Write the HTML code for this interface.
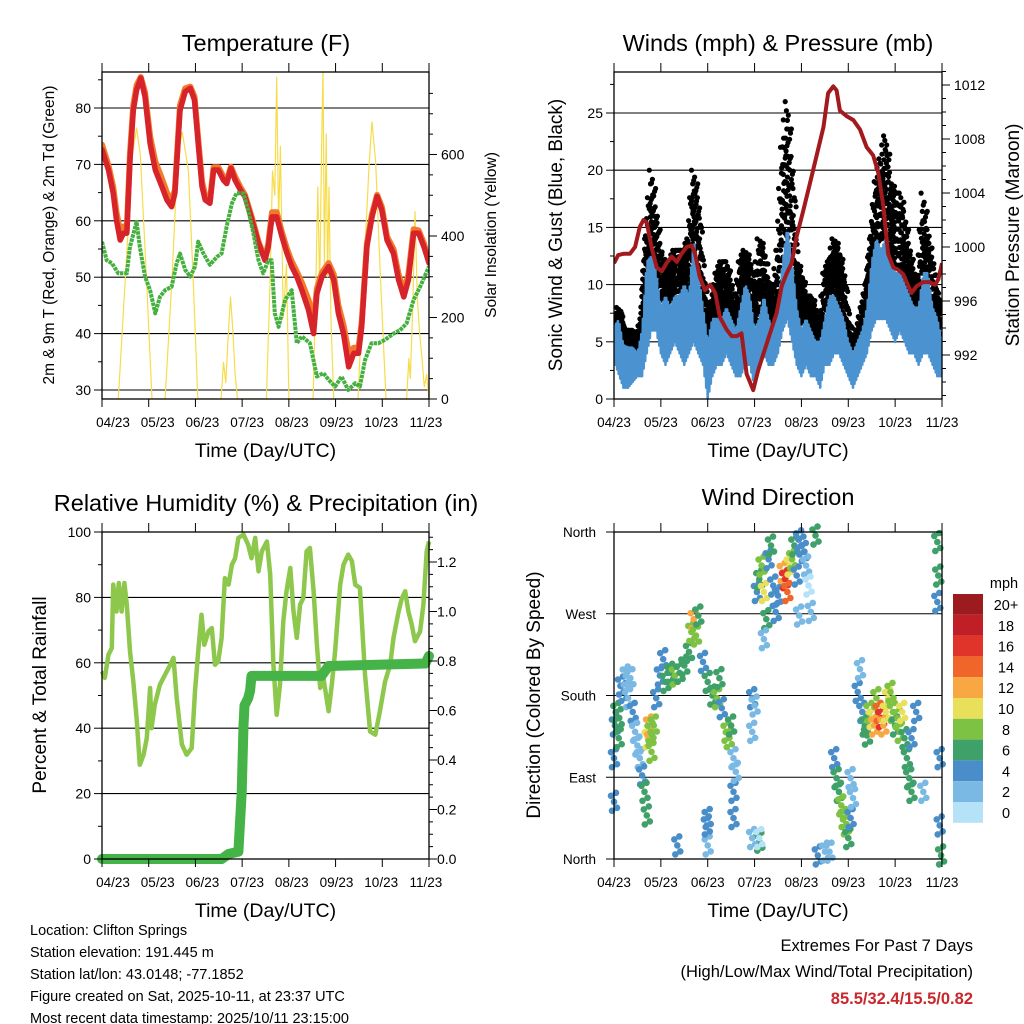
<!DOCTYPE html>
<html><head><meta charset="utf-8"><style>
html,body{margin:0;padding:0;background:#fff;}
svg{display:block;font-family:"Liberation Sans",Arial,sans-serif;}
</style></head><body>
<svg id="c" width="1024" height="1024" viewBox="0 0 1024 1024"></svg>
<script>
// ---------- DATA ----------
const monthLabels = ["04/23","05/23","06/23","07/23","08/23","09/23","10/23","11/23"];
const tempTicks = [30,40,50,60,70,80];
const solarTicks = [0,200,400,600];
const windTicks = [0,5,10,15,20,25];
const pressTicks = [992,996,1000,1004,1008,1012];
const rhTicks = [0,20,40,60,80,100];
const precipTicks = [0.0,0.2,0.4,0.6,0.8,1.0,1.2];
const dirTicks = [0,90,180,270,360];
const dirLabels = ["North","East","South","West","North"];
const speedBins = ["0","2","4","6","8","10","12","14","16","18","20+"];
const speedColors = ["#b5e2f7","#7bb9e5","#4a8ec9","#3fa06a","#7dc242","#e8e05a","#f9a743","#f06529","#e0342a","#c01f27","#9b1b1f"];

const tempRed = [[0,72.6],[.14,69.0],[.24,64.9],[.31,60.1],[.39,56.6],[.46,57.8],[.53,57.8],[.60,70.8],[.67,79.6],[.74,83.2],[.83,85.3],[.92,82.0],[1.03,73.7],[1.14,69.0],[1.28,66.1],[1.39,63.7],[1.49,62.5],[1.56,64.9],[1.67,79.6],[1.78,82.9],[1.89,83.5],[1.98,81.4],[2.06,73.7],[2.14,66.1],[2.21,63.7],[2.31,63.1],[2.39,69.0],[2.49,69.0],[2.60,67.2],[2.67,66.6],[2.76,69.3],[2.85,67.2],[2.96,65.5],[3.06,64.3],[3.21,60.1],[3.35,56.0],[3.49,53.0],[3.56,55.4],[3.64,60.7],[3.74,60.7],[3.85,57.2],[3.96,54.2],[4.06,51.9],[4.17,50.1],[4.28,47.7],[4.42,44.2],[4.53,40.0],[4.60,47.1],[4.71,50.1],[4.85,51.9],[4.96,49.5],[5.06,43.6],[5.17,40.0],[5.28,34.1],[5.39,36.5],[5.49,36.5],[5.56,41.2],[5.67,55.4],[5.78,60.7],[5.89,64.3],[5.99,61.9],[6.10,56.6],[6.24,54.2],[6.35,49.5],[6.46,46.5],[6.56,49.5],[6.67,57.8],[6.78,57.8],[6.89,55.4],[7.0,52.5]];
const tempOrange = [[0,73.5],[.14,69.8],[.24,66],[.31,61.5],[.39,58],[.46,59],[.53,58.5],[.60,72],[.67,80.5],[.74,84],[.83,85.5],[.92,82.8],[1.03,75],[1.14,70.5],[1.28,67.5],[1.39,65],[1.49,63.5],[1.56,65.5],[1.67,80.5],[1.78,83.5],[1.89,83.8],[1.98,82],[2.06,74.5],[2.14,67],[2.21,64.5],[2.31,63.5],[2.39,69.5],[2.49,69.5],[2.60,67.8],[2.67,67],[2.76,69.6],[2.85,67.8],[2.96,66],[3.06,64.6],[3.21,60.5],[3.35,56.3],[3.49,53.3],[3.56,56],[3.64,61.5],[3.74,61.5],[3.85,58],[3.96,55],[4.06,52.8],[4.17,51],[4.28,49],[4.42,46],[4.53,42],[4.60,48],[4.71,50.8],[4.85,52.5],[4.96,50.5],[5.06,45],[5.17,41.5],[5.28,36.5],[5.39,37.5],[5.49,37.5],[5.56,42],[5.67,56],[5.78,61.2],[5.89,64.6],[5.99,62.5],[6.10,57.2],[6.24,55],[6.35,50.5],[6.46,47.5],[6.56,50.5],[6.67,58.5],[6.78,58.3],[6.89,56],[7.0,52.8]];
const dewGreen = [[0,56.3],[.10,53.0],[.21,52.5],[.35,50.7],[.53,50.7],[.60,55.4],[.74,59.8],[.81,55.4],[.92,50.1],[1.03,47.7],[1.14,43.6],[1.24,46.5],[1.35,47.7],[1.49,48.3],[1.60,52.5],[1.67,54.2],[1.78,51.3],[1.89,50.1],[1.99,51.9],[2.06,56.3],[2.17,54.2],[2.31,52.2],[2.46,53.6],[2.56,54.2],[2.67,59.0],[2.78,63.1],[2.88,64.9],[3.03,64.9],[3.13,61.9],[3.24,57.8],[3.35,53.0],[3.45,50.7],[3.56,53.0],[3.63,53.0],[3.70,43.6],[3.78,41.2],[3.85,43.6],[3.92,46.0],[4.06,47.7],[4.17,38.3],[4.28,39.5],[4.45,38.3],[4.60,32.4],[4.74,33.0],[4.85,31.8],[4.99,30.6],[5.13,32.4],[5.27,30.0],[5.42,31.2],[5.52,30.6],[5.63,35.3],[5.77,38.3],[5.92,38.3],[6.06,38.9],[6.24,40.0],[6.38,40.6],[6.52,41.8],[6.67,46.0],[6.81,48.3],[7.0,51.9]];
const solar = [[0,0],[.35,0],[.5,300],[.65,600],[.74,665],[.82,600],[.95,300],[1.07,0],[1.35,0],[1.5,300],[1.62,600],[1.72,655],[1.85,560],[1.95,300],[2.05,0],[2.55,0],[2.6,90],[2.65,40],[2.7,150],[2.75,250],[2.8,170],[2.85,60],[2.9,0],[3.52,0],[3.6,300],[3.65,560],[3.7,500],[3.74,790],[3.78,430],[3.82,620],[3.88,200],[3.95,330],[4.0,0],[4.52,0],[4.58,300],[4.62,520],[4.66,270],[4.7,620],[4.73,810],[4.76,330],[4.8,650],[4.83,300],[4.86,520],[4.9,200],[4.96,0],[5.48,0],[5.6,300],[5.72,580],[5.78,680],[5.86,580],[5.96,300],[6.08,0],[6.52,0],[6.57,100],[6.6,50],[6.65,220],[6.7,460],[6.75,250],[6.8,160],[6.85,100],[6.9,30],[6.95,60],[7.0,0]];

const pressure = [[0,998.8],[.09,999.4],[.2,999.5],[.34,999.5],[.45,1000.0],[.55,1001.5],[.63,1002.0],[.70,1001.8],[.80,1000.0],[.91,998.5],[1.02,998.2],[1.12,998.8],[1.23,999.3],[1.34,998.9],[1.44,999.5],[1.55,1000.0],[1.66,1000.1],[1.73,999.5],[1.83,997.8],[1.94,996.8],[2.05,997.2],[2.16,996.6],[2.26,994.8],[2.40,993.9],[2.51,993.4],[2.62,993.4],[2.72,993.6],[2.83,990.6],[2.97,989.4],[3.08,990.9],[3.19,992.1],[3.33,993.6],[3.47,995.1],[3.58,997.1],[3.68,998.0],[3.79,998.8],[3.90,1000.8],[4.04,1002.7],[4.18,1004.7],[4.32,1006.7],[4.47,1008.9],[4.57,1011.4],[4.68,1011.9],[4.75,1011.6],[4.82,1010.1],[4.96,1009.7],[5.11,1009.4],[5.25,1008.7],[5.39,1007.4],[5.53,1006.8],[5.64,1005.5],[5.75,1003.0],[5.85,999.5],[5.96,998.5],[6.07,998.3],[6.17,998.0],[6.28,997.1],[6.35,996.6],[6.46,997.1],[6.60,997.4],[6.74,997.4],[6.85,997.2],[6.92,997.6],[7.0,998.8]];
const windTime = [0,.1,.2,.3,.4,.5,.6,.7,.8,.9,1.0,1.1,1.2,1.3,1.4,1.5,1.6,1.7,1.8,1.9,2.0,2.1,2.2,2.3,2.4,2.5,2.6,2.7,2.8,2.9,3.0,3.1,3.2,3.3,3.4,3.5,3.6,3.7,3.8,3.9,4.0,4.1,4.2,4.3,4.4,4.5,4.6,4.7,4.8,4.9,5.0,5.1,5.2,5.3,5.4,5.5,5.6,5.7,5.8,5.9,6.0,6.1,6.2,6.3,6.4,6.5,6.6,6.7,6.8,6.9,7.0];
const windLo = [3.4,2.2,1,1,1.5,2,2,4,6,6,4,3,4,5,4,3,4,5,4,3,0,2,3,3,4,3,2,2,3,3,1,3,4,3,3,4,6,7,5,3,2,3,2,2,1,3,3,4,4,3,2,1,2,3,4,6,7,7,7,6,5,6,5,4,4,3,4,4,3,2,2];
const windHi = [6.3,6.9,4.7,4.5,4.5,4,6,12,12.5,11,8,9,8,9,9,10,9,14,11,8,5,7,7,7,8,7,6,8,10,9,6,7,9,7,6,8,12,15,12,8,6,7,6,5,5,7,9,9,8,7,5,4,5,6,8,12,14,13,14,12,11,11,10,9,8,8,11,11,8,7,5];
const windGust = [5.5,8,6,6,6,5.5,7,14,20,16,13,11,12,13,13,13,14,20,17,11,7,8.5,11,12,12,10,8,12,13,12,9,14,13,10,9,13,22,26,20,12,11,9,9,8,6,11,12,14,13,11,7,5,6,8,10,14,19,21,23,19,18,18,16,13,11,10,18,14,12,9,8];

// wind direction scatter: [day, degrees, speed mph]
const dirObs = [[0.0,63,4],[0.0,111,4],[0.02,147,4],[0.05,162,6],[0.1,155,6],[0.1,133,5],[0.15,191,4],[0.2,184,4],[0.25,202,2],[0.3,177,2],[0.35,199,2],[0.4,162,4],[0.45,140,2],[0.5,125,2],[0.55,111,2],[0.6,92,4],[0.65,74,6],[0.7,48,6],[0.72,133,10],[0.75,147,12],[0.78,140,8],[0.8,118,8],[0.85,147,8],[0.9,177,4],[0.98,202,4],[1.05,220,4],[1.1,195,6],[1.2,205,6],[1.3,202,8],[1.4,205,6],[1.5,213,6],[1.6,228,6],[1.65,250,8],[1.7,264,12],[1.75,246,8],[1.8,268,6],[1.9,217,4],[2.0,195,6],[2.1,180,6],[2.2,177,8],[2.25,199,6],[2.3,166,4],[2.4,140,8],[2.45,133,8],[2.5,147,6],[2.55,111,2],[2.55,74,4],[2.55,45,4],[2.6,96,2],[2.95,177,4],[2.95,140,2],[3.0,169,2],[3.05,294,4],[3.1,308,6],[3.15,323,8],[3.2,294,10],[3.25,264,6],[3.3,330,4],[3.35,345,6],[3.4,301,4],[3.45,272,4],[3.5,290,4],[3.6,316,12],[3.65,308,16],[3.7,294,14],[3.75,323,10],[3.8,330,8],[3.85,345,6],[3.9,312,4],[3.95,352,4],[4.0,345,4],[4.05,338,4],[4.1,323,2],[4.15,301,0],[4.2,272,2],[4.3,356,6],[3.95,268,2],[2.0,45,4],[2.0,15,2],[1.98,37,4],[3.1,19,6],[4.35,4,4],[4.5,8,2],[4.6,8,2],[4.7,111,4],[4.75,89,6],[4.8,74,6],[4.85,59,8],[4.9,45,8],[4.95,37,8],[5.0,23,6],[5.05,45,4],[5.1,67,2],[5.2,184,4],[5.25,209,2],[5.3,162,4],[5.35,147,6],[5.4,136,6],[5.45,162,8],[5.5,155,10],[5.55,147,12],[5.6,177,8],[5.65,162,14],[5.7,155,16],[5.75,147,12],[5.8,162,10],[5.85,177,10],[5.9,184,8],[5.95,162,8],[6.0,147,6],[6.05,155,8],[6.1,140,8],[6.15,162,10],[6.2,133,6],[6.25,111,6],[6.3,89,6],[6.35,74,6],[6.35,133,4],[6.45,162,4],[6.6,74,2],[6.9,349,6],[6.92,312,6],[6.9,283,4],[6.95,111,4],[6.95,37,4],[6.98,4,6],[5.05,89,2],[1.35,15,4],[3.2,242,2],[2.95,23,2],[3.1,23,0]];

const rh = [[0,57.4],[.06,55.4],[.14,62.5],[.21,64.5],[.24,83.9],[.31,75.7],[.36,84.4],[.42,75.7],[.48,84.4],[.53,77.8],[.60,63.5],[.67,54.3],[.74,43.1],[.81,28.8],[.89,31.9],[.96,37],[1.03,52.3],[1.06,40],[1.13,47.2],[1.24,53.3],[1.35,56.4],[1.46,59.4],[1.53,61.5],[1.60,49.2],[1.71,35],[1.81,31.9],[1.92,33.9],[1.99,51.3],[2.06,63.5],[2.13,74.7],[2.19,65.5],[2.28,69.6],[2.35,70.6],[2.42,59.4],[2.49,60.5],[2.56,67.6],[2.63,85.9],[2.71,83.9],[2.78,90],[2.85,92],[2.92,98.2],[3.03,99.2],[3.13,96.1],[3.20,92],[3.28,98.2],[3.35,88],[3.42,94.1],[3.53,97.1],[3.60,87],[3.67,59.4],[3.74,44.1],[3.81,53.3],[3.88,72.7],[3.95,81.9],[4.03,89],[4.10,75.7],[4.17,67.6],[4.24,77.8],[4.31,79.8],[4.38,94.1],[4.45,95.1],[4.53,81.9],[4.60,65.5],[4.67,52.3],[4.74,55.4],[4.85,45.2],[4.92,53.3],[4.99,63.5],[5.10,83.9],[5.17,90],[5.27,93.1],[5.35,91.1],[5.42,83.9],[5.52,82.9],[5.63,56.4],[5.74,39],[5.85,38],[5.95,45.2],[6.06,54.3],[6.17,59.4],[6.24,67.6],[6.35,75.7],[6.42,79.8],[6.49,81.9],[6.56,75.7],[6.63,71.7],[6.70,66.6],[6.81,69.6],[6.88,77.8],[6.95,94.1],[7.0,97.1]];
const precip = [[0,0],[2.56,0],[2.71,0.02],[2.92,0.03],[2.99,0.27],[3.03,0.54],[3.05,0.62],[3.13,0.65],[3.17,0.68],[3.20,0.74],[4.70,0.74],[4.85,0.78],[6.92,0.79],[7.0,0.82]];

// ---------- DRAWING ----------
const NS = "http://www.w3.org/2000/svg";
const svg = document.getElementById("c");
function el(tag, attrs, parent){
  const e = document.createElementNS(NS, tag);
  for (const k in attrs) e.setAttribute(k, attrs[k]);
  (parent||svg).appendChild(e);
  return e;
}
function txt(s, x, y, size, anchor, parent, extra){
  const t = el("text", Object.assign({x:x, y:y, "font-size":size, "text-anchor":anchor||"middle", fill:"#000"}, extra||{}), parent);
  t.textContent = s;
  return t;
}
function group(name){
  const g = el("g", {});
  
  
  return g;
}
function pts(arr, fx, fy){ return arr.map(p => fx(p[0]).toFixed(1)+","+fy(p[1]).toFixed(1)).join(" "); }

function frame(g, L, R, T, B){
  el("rect", {x:L, y:T, width:R-L, height:B-T, fill:"none", stroke:"#000", "stroke-width":1.3}, g);
}
function timeAxis(g, L, R, T, B, labelCenters){
  for (let i=0;i<8;i++){
    const x = L + (R-L)*i/7;
    el("line",{x1:x,y1:B,x2:x,y2:B+8,stroke:"#000","stroke-width":1}, g);
    el("line",{x1:x,y1:T,x2:x,y2:T-9,stroke:"#000","stroke-width":1}, g);
    const lx = labelCenters ? labelCenters(i) : x;
    const t = txt(monthLabels[i], lx, B+28, 13.5, "middle", g);
    
    
  }
  const tt = txt("Time (Day/UTC)", (L+R)/2, B+58, 19.5, "middle", g);
  
  
}
function vTicks(g, x, dir, yOf, vals, len){
  vals.forEach(v => { const y=yOf(v); el("line",{x1:x,y1:y,x2:x+dir*len,y2:y,stroke:"#000","stroke-width":1},g); });
}
function range(a,b,s){ const r=[]; for(let v=a; v<=b+1e-9; v+=s) r.push(+v.toFixed(4)); return r; }

// ===== Panel 1: Temperature =====
(function(){
  const g = group("temperature-panel");
  const L=102,R=429,T=72,B=399;
  const X = t => L + t*(R-L)/7;
  const Y = v => 390 - (v-30)*5.64;
  const YS = s => 399 - s*0.4075;
  tempTicks.forEach(v=>{ el("line",{x1:L,y1:Y(v),x2:R,y2:Y(v),stroke:"#000","stroke-width":1.1},g); });
  const cl = "clipT";
  const cp = el("clipPath",{id:cl},g); el("rect",{x:L,y:T,width:R-L,height:B-T},cp);
  const d = el("g",{"clip-path":"url(#"+cl+")"},g);
  const s = el("polyline",{points:pts(solar,X,YS),fill:"none",stroke:"#f7dc4a","stroke-width":1.2,"stroke-linejoin":"round"},d);
   
  const o = el("polyline",{points:pts(tempOrange,X,Y),fill:"none",stroke:"#f37a2b","stroke-width":6,"stroke-linejoin":"round","stroke-linecap":"round"},d);
   
  const r = el("polyline",{points:pts(tempRed,X,Y),fill:"none",stroke:"#d7232a","stroke-width":5.5,"stroke-linejoin":"round","stroke-linecap":"round"},d);
   
  const gr = el("polyline",{points:pts(dewGreen,X,Y),fill:"none",stroke:"#45b03f","stroke-width":4,"stroke-dasharray":"3.5 0.8","stroke-linejoin":"round"},d);
   
  frame(g,L,R,T,B);
  vTicks(g,L,-1,Y,tempTicks,8);
  vTicks(g,L,-1,Y,range(35,85,10),4);
  tempTicks.forEach(v=>{ const t=txt(String(v),L-11,Y(v)+5,14,"end",g);   });
  vTicks(g,R,1,YS,solarTicks,8);
  vTicks(g,R,1,YS,range(0,750,50),4);
  solarTicks.forEach(v=>{ const t=txt(String(v),R+12,YS(v)+5,14,"start",g);   });
  timeAxis(g,L,R,T,B,i=>113+i*44.7);
  const ti = txt("Temperature (F)", 266, 51, 23.5, "middle", g);  
  const yl = txt("2m & 9m T (Red, Orange) & 2m Td (Green)", 0,0,15.5,"middle",g,{transform:"translate(54,235) rotate(-90)"});
   
  const yr = txt("Solar Insolation (Yellow)", 0,0,15.5,"middle",g,{transform:"translate(496,235) rotate(-90)"});
   
})();

// ===== Panel 2: Winds & Pressure =====
(function(){
  const g = group("winds-panel");
  const L=614,R=942,T=72,B=399;
  const X = t => L + t*(R-L)/7;
  const Y = w => 399 - w*11.44;
  const YP = p => 85 + (1012-p)*13.5;
  windTicks.forEach(v=>{ el("line",{x1:L,y1:Y(v),x2:R,y2:Y(v),stroke:"#000","stroke-width":1.1},g); });
  const cp = el("clipPath",{id:"clipW"},g); el("rect",{x:L,y:T,width:R-L,height:B-T},cp);
  const d = el("g",{"clip-path":"url(#clipW)"},g);
  // gust dots
  const gd = el("g",{},d);
   
  const fr=[1,0.85,0.7,0.55,0.4,0.25,0.1];
  for (let i=0;i<windTime.length-1;i++){
    for (let k=0;k<5;k++){
      const f=k/5, t=windTime[i]+(windTime[i+1]-windTime[i])*f;
      const gu=windGust[i]+(windGust[i+1]-windGust[i])*f;
      const hi=windHi[i]+(windHi[i+1]-windHi[i])*f;
      fr.forEach((q,j)=>{
        const xo = ((j+k)%3-1)*2.2;
        const v=hi+(gu-hi)*q;
        el("circle",{cx:(X(t)+xo).toFixed(1),cy:Y(v).toFixed(1),r:2.6,fill:"#000"},gd);
      });
    }
  }
  // sustained wind zigzag
  const zz=[];
  for (let i=0;i<windTime.length-1;i++){
    for (let k=0;k<6;k++){
      const f=k/6, t=windTime[i]+(windTime[i+1]-windTime[i])*f;
      const lo=windLo[i]+(windLo[i+1]-windLo[i])*f, hi=windHi[i]+(windHi[i+1]-windHi[i])*f;
      zz.push([t, k%2===0?lo:hi]);
    }
  }
  const bl = el("polyline",{points:pts(zz,X,Y),fill:"none",stroke:"#4b93d0","stroke-width":2.6,"stroke-linejoin":"round"},d);
   
  const pl = el("polyline",{points:pts(pressure,X,YP),fill:"none",stroke:"#a31a1e","stroke-width":4,"stroke-linejoin":"round"},d);
   
  frame(g,L,R,T,B);
  vTicks(g,L,-1,Y,windTicks,8);
  vTicks(g,L,-1,Y,range(2.5,27.5,5),4);
  windTicks.forEach(v=>{ const t=txt(String(v),L-11,Y(v)+5,14,"end",g);   });
  vTicks(g,R,1,YP,pressTicks,8);
  vTicks(g,R,1,YP,range(989,1013,1),4);
  pressTicks.forEach(v=>{ const t=txt(String(v),R+12,YP(v)+5,14,"start",g);   });
  timeAxis(g,L,R,T,B);
  const ti = txt("Winds (mph) & Pressure (mb)", 778, 51, 23.5, "middle", g);  
  const yl = txt("Sonic Wind & Gust (Blue, Black)",0,0,19,"middle",g,{transform:"translate(562,235) rotate(-90)"});
   
  const yr = txt("Station Pressure (Maroon)",0,0,19,"middle",g,{transform:"translate(1019,235) rotate(-90)"});
   
})();

// ===== Panel 3: RH & Precip =====
(function(){
  const g = group("humidity-panel");
  const L=102,R=429,T=532,B=859;
  const X = t => L + t*(R-L)/7;
  const Y = v => 859 - v*3.27;
  const YP = p => 859 - p*247.5;
  rhTicks.forEach(v=>{ el("line",{x1:L,y1:Y(v),x2:R,y2:Y(v),stroke:"#000","stroke-width":1.1},g); });
  const cp = el("clipPath",{id:"clipR"},g); el("rect",{x:L-6,y:T-2,width:R-L+12,height:B-T+8},cp);
  const d = el("g",{"clip-path":"url(#clipR)"},g);
  const rl = el("polyline",{points:pts(rh,X,Y),fill:"none",stroke:"#8dc74b","stroke-width":4.5,"stroke-linejoin":"round"},d);
   
  const pp = el("polyline",{points:pts(precip,X,YP),fill:"none",stroke:"#45b348","stroke-width":10,"stroke-linejoin":"round","stroke-linecap":"round"},d);
   
  frame(g,L,R,T,B);
  vTicks(g,L,-1,Y,rhTicks,8);
  vTicks(g,L,-1,Y,range(10,90,20),4);
  rhTicks.forEach(v=>{ const t=txt(String(v),L-11,Y(v)+5,14,"end",g);   });
  vTicks(g,R,1,YP,precipTicks,8);
  vTicks(g,R,1,YP,range(0.05,1.3,0.05),4);
  precipTicks.forEach(v=>{ const t=txt(v.toFixed(1),R+8,YP(v)+5,14,"start",g);   });
  timeAxis(g,L,R,T,B,i=>113+i*44.7);
  const ti = txt("Relative Humidity (%) & Precipitation (in)", 266, 511, 23.5, "middle", g);  
  const yl = txt("Percent & Total Rainfall",0,0,19,"middle",g,{transform:"translate(46,695) rotate(-90)"});
   
})();

// ===== Panel 4: Wind Direction =====
(function(){
  const g = group("wind-direction-panel");
  const L=614,R=942,T=532,B=859;
  const X = t => L + t*(R-L)/7;
  const Y = deg => 859 - deg*(B-T)/360;
  dirTicks.forEach(v=>{ el("line",{x1:L,y1:Y(v),x2:R,y2:Y(v),stroke:"#000","stroke-width":1.1},g); });
  const dg = el("g",{},g);
   
  const offs = [[0,0],[-3,-6],[3,6],[-2,9],[2,-9]];
  dirObs.forEach(o=>{
    const bin = Math.min(10, Math.max(0, Math.round(o[2]/2)));
    const c = speedColors[bin];
    offs.forEach(of=>{
      el("circle",{cx:(X(o[0])+of[0]).toFixed(1),cy:(Y(o[1])+of[1]).toFixed(1),r:3.3,fill:c},dg);
    });
  });
  frame(g,L,R,T,B);
  vTicks(g,L,-1,Y,dirTicks,8);
  dirTicks.forEach((v,i)=>{ const t=txt(dirLabels[i],L-18,Y(v)+5,13.5,"end",g);   });
  timeAxis(g,L,R,T,B);
  const ti = txt("Wind Direction", 778, 505, 23.5, "middle", g);  
  const yl = txt("Direction (Colored By Speed)",0,0,19,"middle",g,{transform:"translate(540,695) rotate(-90)"});
   
  // colorbar
  const cb = group("speed-colorbar");
  const mt = txt("mph",1004,588,14.5,"middle",cb);  
  for (let i=0;i<speedBins.length;i++){
    const j = speedBins.length-1-i;
    const y = 594 + i*20.8;
    const r = el("rect",{x:953,y:y,width:30,height:20.8,fill:speedColors[j]},cb);
     
    const t = txt(speedBins[j],1006,y+16,14.5,"middle",cb);
     
  }
})();

// ===== Footer text =====
(function(){
  const g = group("station-info");
  const lines = ["Location: Clifton Springs","Station elevation: 191.445 m","Station lat/lon: 43.0148; -77.1852","Figure created on Sat, 2025-10-11, at 23:37 UTC","Most recent data timestamp: 2025/10/11 23:15:00"];
  lines.forEach((s,i)=>{ const t=txt(s,30,935+i*22,14.5,"start",g);   });
  const e = group("extremes-summary");
  const a = txt("Extremes For Past 7 Days",973,951,16.5,"end",e);  
  const b = txt("(High/Low/Max Wind/Total Precipitation)",973,977,16.5,"end",e);  
  const c = txt("85.5/32.4/15.5/0.82",973,1004,16.5,"end",e,{fill:"#c8282d","font-weight":"bold"});  
})();
</script>
</body></html>
